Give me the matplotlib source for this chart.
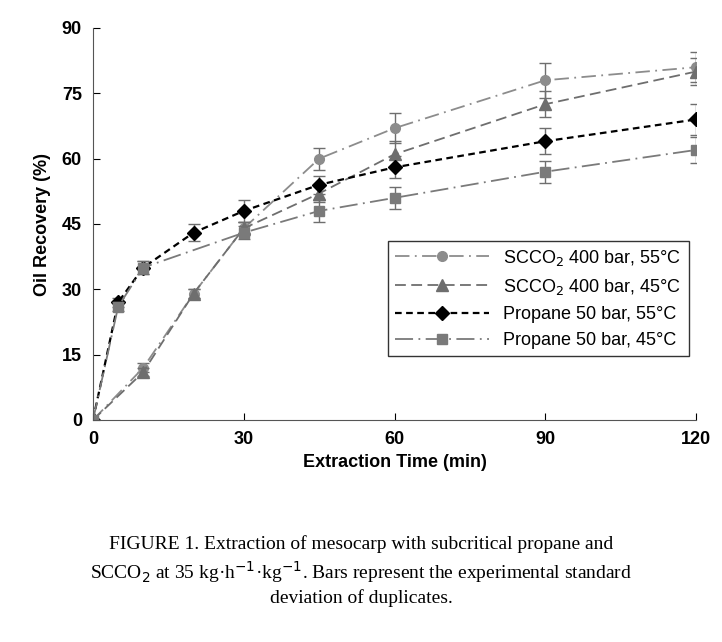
import matplotlib
matplotlib.use("Agg")
import matplotlib.pyplot as plt

x_all = [0, 5, 10, 20, 30, 45, 60, 90, 120]
x_sc = [0, 10, 20, 30, 45, 60, 90, 120]
sc55 = [0, 12, 29, 44, 60, 67, 78, 81]
sc55_err = [0, 1, 1, 1.5, 2.5, 3.5, 4, 3.5]
sc45 = [0, 11, 29, 44, 52, 61, 72.5, 80]
sc45_err = [0, 1, 1, 1.5, 2, 3, 3, 3]
pr55 = [0, 27, 35, 43, 48, 54, 58, 64, 69]
pr55_err = [0, 1, 1.5, 2, 2.5, 2, 2.5, 3, 3.5]
x_p45 = [0, 5, 10, 30, 45, 60, 90, 120]
pr45 = [0, 26, 35, 43, 48, 51, 57, 62]
pr45_err = [0, 1, 1.5, 1.5, 2.5, 2.5, 2.5, 3]

fig = plt.figure(figsize=(7.22, 6.42), dpi=100)
ax = fig.add_axes([93/722, 1-420/642, 603/722, 392/642])
gray1 = "#8c8c8c"; gray2 = "#6e6e6e"; gray3 = "#7a7a7a"
series = [
    (x_sc, sc55, sc55_err, gray1, "o", 7, (0, (8, 3, 1, 3)), 1.3, "SCCO$_2$ 400 bar, 55°C"),
    (x_sc, sc45, sc45_err, gray2, "^", 8, (0, (6, 3)), 1.3, "SCCO$_2$ 400 bar, 45°C"),
    (x_all, pr55, pr55_err, "black", "D", 7, (0, (3, 2)), 1.6, "Propane 50 bar, 55°C"),
    (x_p45, pr45, pr45_err, gray3, "s", 7, (0, (10, 3, 1, 3)), 1.3, "Propane 50 bar, 45°C"),
]
handles = []
for xs, ys, es, c, m, ms, ls, lw, lab in series:
    ax.errorbar(xs, ys, yerr=es, fmt="none", capsize=4, ecolor=gray2, lw=1)
    h, = ax.plot(xs, ys, color=c, marker=m, ms=ms, ls=ls, lw=lw, label=lab)
    handles.append(h)
ax.set_xlim(0, 120); ax.set_ylim(0, 90)
ax.set_xticks([0, 30, 60, 90, 120]); ax.set_yticks(range(0, 91, 15))
for s in ["top", "right"]:
    ax.spines[s].set_visible(False)
ax.spines["left"].set_color("#555"); ax.spines["bottom"].set_color("#555")
ax.tick_params(direction="in", length=5, labelsize=13, pad=8)
for t in ax.get_xticklabels() + ax.get_yticklabels():
    t.set_fontweight("bold"); t.set_family("Liberation Sans")
ax.set_xlabel("Extraction Time (min)", fontsize=13, fontweight="bold", family="Liberation Sans", labelpad=4)
ax.set_ylabel("Oil Recovery (%)", fontsize=13, fontweight="bold", family="Liberation Sans", labelpad=8)
leg = ax.legend(handles=handles, loc="lower right", bbox_to_anchor=(1.003, 0.14), frameon=True, fancybox=False,
                edgecolor="black", prop={"family": "Liberation Sans", "size": 13}, handlelength=5.2,
                borderpad=0.4, labelspacing=0.5)
leg.get_frame().set_linewidth(1.0)
cap = ("FIGURE 1. Extraction of mesocarp with subcritical propane and\n"
       "SCCO$_2$ at 35 kg·h$^{-1}$·kg$^{-1}$. Bars represent the experimental standard\n"
       "deviation of duplicates.")
fig.text(0.5, 1-535/642, cap, ha="center", va="top", fontsize=14, family="Liberation Serif", linespacing=1.3)
fig.savefig("out.png", dpi=100)
